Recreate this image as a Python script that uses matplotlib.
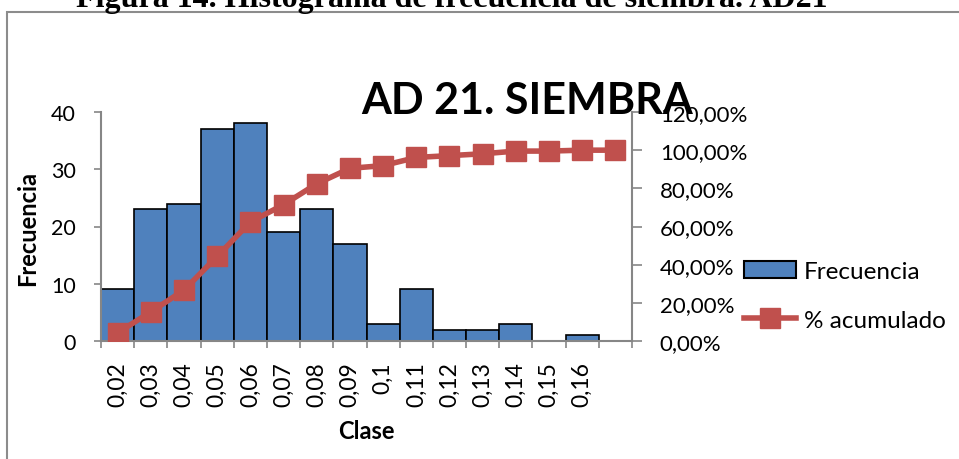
import matplotlib
matplotlib.use('Agg')
import matplotlib.pyplot as plt
import matplotlib.ticker as ticker
from matplotlib.patches import Rectangle, Patch
from matplotlib.lines import Line2D

# Data
categorias = ['0,02', '0,03', '0,04', '0,05', '0,06', '0,07', '0,08', '0,09',
              '0,1', '0,11', '0,12', '0,13', '0,14', '0,15', '0,16', '']
frecuencia = [9, 23, 24, 37, 38, 19, 23, 17, 3, 9, 2, 2, 3, 0, 1, 0]
acumulado = [4.29, 15.24, 26.67, 44.29, 62.38, 71.43, 82.38, 90.48, 91.90,
             96.19, 97.14, 98.10, 99.52, 99.52, 100.0, 100.0]

BAR_COLOR = '#4F81BD'
LINE_COLOR = '#C0504D'
AXIS_COLOR = '#868686'
FONT = 'Lato'

W, H = 959, 460
fig = plt.figure(figsize=(W / 100, H / 100), dpi=100)

# Outer chart border (extends past right/bottom edge like the crop)
fig.patches.append(Rectangle((7 / W, -0.2), 1.2, 1 - 13 / H + 0.2,
                             transform=fig.transFigure, fill=False,
                             edgecolor='#8c8c8c', linewidth=1.5))

# Figure caption, cut off at the top edge
fig.text(452 / W, 1 - 7 / H,
         'Figura 14. Histograma de frecuencia de siembra. AD21',
         ha='center', va='baseline', fontsize=23, fontweight='bold',
         family='Liberation Serif')

ax = fig.add_axes([101 / W, 118 / H, 531 / W, 229 / H])
x = list(range(len(categorias)))
ax.bar(x, frecuencia, width=1.0, color=BAR_COLOR, edgecolor='black',
       linewidth=1.2, zorder=2)
ax.set_xlim(-0.5, len(categorias) - 0.5)
ax.set_ylim(0, 40)
ax.set_yticks([0, 10, 20, 30, 40])

ax.set_xticks(x)
ax.set_xticklabels(categorias, rotation=90, fontsize=16.5, family=FONT)
ax.set_xticks([i - 0.5 for i in range(len(categorias) + 1)], minor=True)
ax.tick_params(axis='x', which='major', length=0, pad=14.5)
ax.tick_params(axis='x', which='minor', length=5, width=1.2, color=AXIS_COLOR)
ax.tick_params(axis='y', length=5, width=1.2, color=AXIS_COLOR, pad=13,
               labelsize=15.5)
for lbl in ax.get_yticklabels():
    lbl.set_family(FONT)

for side in ('top', 'right'):
    ax.spines[side].set_visible(False)
for side in ('left', 'bottom'):
    ax.spines[side].set_color(AXIS_COLOR)
    ax.spines[side].set_linewidth(1.5)

# Axis titles placed where the reference has them
fig.text(28 / W, 1 - 228 / H, 'Frecuencia', rotation=90, ha='center',
         va='center', fontsize=17, fontweight='bold', family=FONT)
fig.text(366 / W, 1 - 432 / H, 'Clase', ha='center', va='center',
         fontsize=17, fontweight='bold', family=FONT)

# Cumulative percentage on secondary axis
ax2 = ax.twinx()
ax2.plot(x, [v / 100 for v in acumulado], color=LINE_COLOR, linewidth=4,
         marker='s', markersize=14, markerfacecolor=LINE_COLOR,
         markeredgecolor=LINE_COLOR, zorder=3)
ax2.set_ylim(0, 1.2)
ax2.set_yticks([0, 0.2, 0.4, 0.6, 0.8, 1.0, 1.2])
ax2.yaxis.set_major_formatter(
    ticker.FuncFormatter(lambda v, _: f'{v * 100:.2f}%'.replace('.', ',')))
ax2.tick_params(axis='y', length=7, width=1.2, color=AXIS_COLOR, pad=13,
                labelsize=16)
for lbl in ax2.get_yticklabels():
    lbl.set_family(FONT)
for side in ('top', 'left', 'bottom'):
    ax2.spines[side].set_visible(False)
ax2.spines['right'].set_color(AXIS_COLOR)
ax2.spines['right'].set_linewidth(1.5)

# Chart title
fig.text(527 / W, 1 - 114 / H, 'AD 21. SIEMBRA', ha='center', va='baseline',
         fontsize=31, fontweight='bold', family=FONT)

# Legend
handles = [Patch(facecolor=BAR_COLOR, edgecolor='black', linewidth=1.5),
           Line2D([0], [0], color=LINE_COLOR, linewidth=4, marker='s',
                  markersize=14)]
fig.legend(handles, ['Frecuencia', '% acumulado'], loc='center left',
           bbox_to_anchor=(744 / W, 1 - 297 / H), frameon=False,
           prop={'family': FONT, 'size': 17.5}, handlelength=2.15,
           handletextpad=0.3, labelspacing=1.15, borderpad=0,
           borderaxespad=0)

fig.savefig('out.png', dpi=100)
